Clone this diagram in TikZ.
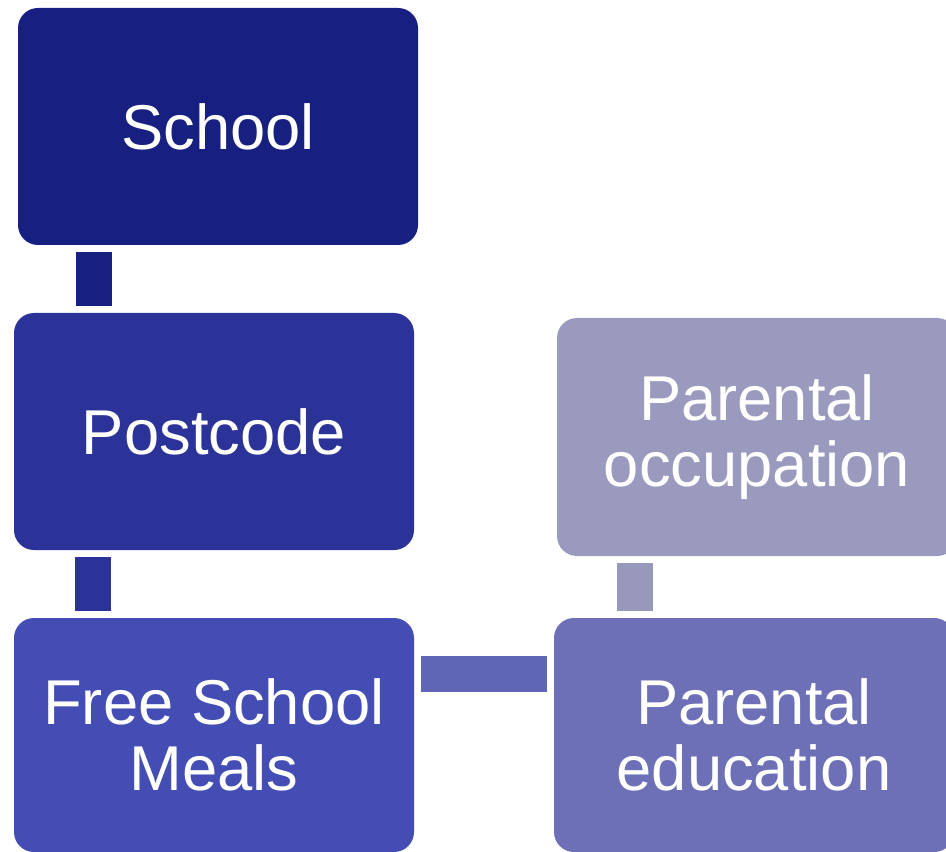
\documentclass[tikz,border=0pt]{standalone}
\usepackage{fontspec}
\setmainfont{Liberation Sans}
\usetikzlibrary{calc}

\definecolor{cSchool}{HTML}{172080}
\definecolor{cPost}{HTML}{2B3399}
\definecolor{cMeals}{HTML}{434DB3}
\definecolor{cLinkH}{HTML}{5F66B6}
\definecolor{cEdu}{HTML}{6D70B6}
\definecolor{cLinkV}{HTML}{9898BB}
\definecolor{cOcc}{HTML}{9A9ABF}

\tikzset{
    box/.style={rounded corners=15pt, text=white, align=center,
        inner sep=0pt, minimum width=300pt, minimum height=177.75pt,
        font=\fontsize{47.5}{49}\selectfont},
    link/.style={line width=27pt, shorten <=5pt, shorten >=5pt}
}

\begin{document}
\begin{tikzpicture}[x=0.75pt,y=-0.75pt]
            \useasboundingbox (0,0) rectangle (946,852);
            \clip (0,0) rectangle (946,852);

            \node[box,fill=cSchool] (school) at (218,126.5) {School};
            \node[box,fill=cPost] (post) at (214,431.5) {Postcode};
            \node[box,fill=cMeals,minimum height=175.5pt] (meals) at (214,735) {Free School\\Meals};
            \node[box,fill=cEdu,minimum height=175.5pt] (edu) at (754,735) {Parental\\education};
            \node[box,fill=cOcc,minimum height=178.5pt] (occ) at (757,437) {Parental\\occupation};

            % links between the boxes
            \draw[link,cSchool] ([xshift=57pt]school.south west) -- ([xshift=57pt]school.south west |- post.north);
            \draw[link,cPost] ([xshift=59.25pt]post.south west) -- ([xshift=59.25pt]post.south west |- meals.north);
            \draw[link,cLinkH] ([yshift=45.4pt]meals.east) -- ([yshift=45.4pt]meals.east -| edu.west);
            \draw[link,cLinkV] ([xshift=61pt]edu.north west) -- ([xshift=61pt]edu.north west |- occ.south);
        \end{tikzpicture}
\end{document}
